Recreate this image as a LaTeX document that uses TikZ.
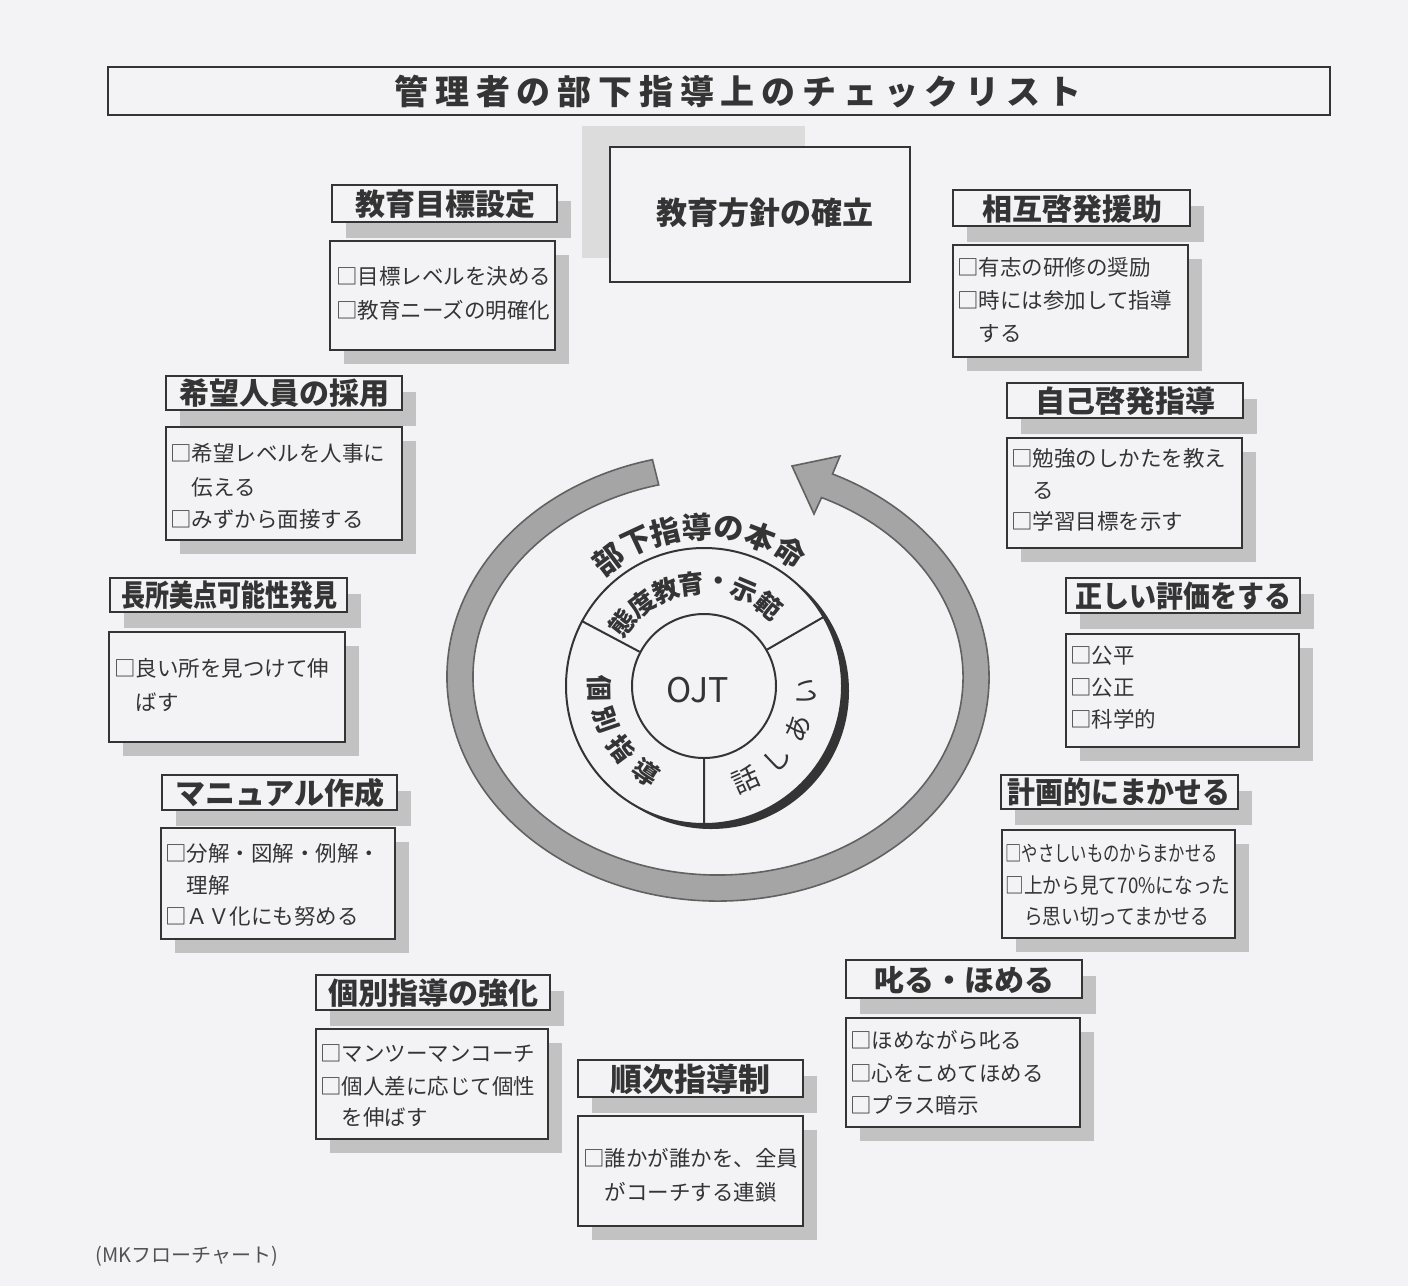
\documentclass[tikz,border=0pt]{standalone}
\usepackage{fontspec}
\usepackage{graphicx}
\setmainfont{Noto Sans CJK JP}
\usetikzlibrary{shadows,fit}
\definecolor{bg}{RGB}{243,243,245}
\definecolor{ink}{RGB}{52,52,52}
\definecolor{shd}{RGB}{194,194,194}
\definecolor{bandc}{RGB}{165,165,165}
\definecolor{patch}{RGB}{220,220,220}
\tikzset{
 boxbase/.style={draw=ink, line width=1pt, fill=bg, inner sep=0pt, outer sep=0pt},
 hdr/.style={boxbase, drop shadow={shadow xshift=7pt, shadow yshift=-8pt, fill=shd, opacity=1}},
 htxt/.style={anchor=base, inner sep=0pt, text=ink, font=\fontsize{15pt}{18pt}\selectfont\bfseries},
 cbox/.style={boxbase, drop shadow={shadow xshift=7pt, shadow yshift=-7pt, fill=shd, opacity=1}},
 cl/.style={anchor=base west, inner sep=0pt, text=ink, font=\fontsize{10.75pt}{13pt}\selectfont},
 ringa/.style={inner sep=0pt, text=ink, font=\fontsize{15pt}{18pt}\selectfont\bfseries},
 ringb/.style={inner sep=0pt, text=ink, font=\fontsize{13pt}{16pt}\selectfont\bfseries},
 ringc/.style={inner sep=0pt, text=ink, font=\fontsize{13.5pt}{16pt}\selectfont},
}
\begin{document}
\begin{tikzpicture}[x=0.5pt,y=-0.5pt]
\useasboundingbox (0,0) rectangle (1408,1286);
\fill[bg] (0,0) rectangle (1408,1286);
% title
\node[boxbase, fit={(108,67) (1330,115)}] (titlebox) {};
\node[anchor=base, text=ink, inner sep=0pt, font=\fontsize{17pt}{20pt}\selectfont\bfseries\addfontfeature{LetterSpace=20}] (title) at (738,104) {管理者の部下指導上のチェックリスト};
% policy box
\fill[patch] (582,126) rectangle (805,258);
\node[boxbase, fit={(610,147) (910,282)}] (policybox) {};
\node[anchor=base, text=ink, inner sep=0pt, font=\fontsize{15.5pt}{18pt}\selectfont\bfseries] (policy) at (765,224) {教育方針の確立};
% headers
\node[hdr, fit={(332,185) (557,222)}] (h1) {};
\node[hdr, fit={(953,190) (1190,226)}] (h2) {};
\node[hdr, fit={(166,376) (402,410)}] (h3) {};
\node[hdr, fit={(1007,383) (1243,418)}] (h4) {};
\node[hdr, fit={(110,578) (347,612)}] (h5) {};
\node[hdr, fit={(1066,578) (1300,613)}] (h6) {};
\node[hdr, fit={(162,775) (397,810)}] (h7) {};
\node[hdr, fit={(1001,775) (1238,809)}] (h8) {};
\node[hdr, fit={(316,975) (550,1010)}] (h9) {};
\node[hdr, fit={(846,960) (1082,998)}] (h10) {};
\node[hdr, fit={(578,1060) (803,1097)}] (h11) {};
\node[htxt] (t1) at (445,215) {教育目標設定};
\node[htxt] (t2) at (1072,220) {相互啓発援助};
\node[htxt] (t3) at (284,404) {希望人員の採用};
\node[htxt] (t4) at (1125,412) {自己啓発指導};
\node[htxt] (t5) at (229,606) {\scalebox{0.8}[1]{長所美点可能性発見}};
\node[htxt] (t6) at (1183,607) {\scalebox{0.9}[1]{正しい評価をする}};
\node[htxt] (t7) at (280,804) {マニュアル作成};
\node[htxt] (t8) at (1119,803) {\scalebox{0.93}[1]{計画的にまかせる}};
\node[htxt] (t9) at (433,1004) {個別指導の強化};
\node[htxt] (t10) at (964,991) {叱る・ほめる};
\node[htxt] (t11) at (690,1091) {\fontsize{16pt}{18pt}\selectfont 順次指導制};
% content boxes
\node[cbox, fit={(330,241) (555,350)}] (b1) {};
\node[cbox, fit={(953,245) (1188,357)}] (b2) {};
\node[cbox, fit={(166,427) (402,540)}] (b3) {};
\node[cbox, fit={(1007,438) (1242,548)}] (b4) {};
\node[cbox, fit={(109,632) (345,742)}] (b5) {};
\node[cbox, fit={(1066,634) (1299,747)}] (b6) {};
\node[cbox, fit={(161,828) (395,939)}] (b7) {};
\node[cbox, fit={(1002,830) (1235,938)}] (b8) {};
\node[cbox, fit={(316,1029) (548,1139)}] (b9) {};
\node[cbox, fit={(846,1018) (1080,1127)}] (b10) {};
\node[cbox, fit={(578,1116) (803,1226)}] (b11) {};
% content lines
\node[cl] (c1a) at (336,284) {□目標レベルを決める};
\node[cl] (c1b) at (336,318) {□教育ニーズの明確化};
\node[cl] (c2a) at (957,275) {□有志の研修の奨励};
\node[cl] (c2b) at (957,308) {□時には参加して指導};
\node[cl] (c2c) at (957,341) {　する};
\node[cl] (c3a) at (170,461) {□希望レベルを人事に};
\node[cl] (c3b) at (170,495) {　伝える};
\node[cl] (c3c) at (170,527) {□みずから面接する};
\node[cl] (c4a) at (1011,466) {□勉強のしかたを教え};
\node[cl] (c4b) at (1011,498) {　る};
\node[cl] (c4c) at (1011,529) {□学習目標を示す};
\node[cl] (c5a) at (114,676) {□良い所を見つけて伸};
\node[cl] (c5b) at (114,710) {　ばす};
\node[cl] (c6a) at (1070,663) {□公平};
\node[cl] (c6b) at (1070,695) {□公正};
\node[cl] (c6c) at (1070,727) {□科学的};
\node[cl] (c7a) at (165,861) {□分解・図解・例解・};
\node[cl] (c7b) at (165,893) {　理解};
\node[cl] (c7c) at (165,924) {□ＡＶ化にも努める};
\node[cl] (c8a) at (1005,861) {\scalebox{0.76}[1]{□やさしいものからまかせる}};
\node[cl] (c8b) at (1005,893) {\scalebox{0.87}[1]{□上から見て70\%になった}};
\node[cl] (c8c) at (1005,924) {\scalebox{0.87}[1]{　ら思い切ってまかせる}};
\node[cl] (c9a) at (320,1061) {□マンツーマンコーチ};
\node[cl] (c9b) at (320,1094) {□個人差に応じて個性};
\node[cl] (c9c) at (320,1125) {　を伸ばす};
\node[cl] (c10a) at (850,1048) {□ほめながら叱る};
\node[cl] (c10b) at (850,1081) {□心をこめてほめる};
\node[cl] (c10c) at (850,1113) {□プラス暗示};
\node[cl] (c11a) at (583,1166) {□誰かが誰かを、全員};
\node[cl] (c11b) at (583,1200) {　がコーチする連鎖};
% big circular arrow band
\path[fill=bandc, draw=black!62, line width=0.8pt]
 ({718+271*cos(104)},{677-224*sin(104)})
 arc[start angle=-104, end angle=-425, x radius=271, y radius=224]
 -- (840,456) -- (792,466) -- (814,514)
 -- ({718+245*cos(65)},{677-198*sin(65)})
 arc[start angle=-425, end angle=-104, x radius=245, y radius=198] -- cycle;
% OJT circles
\fill[ink] (711,691) circle[radius=138];
\node[circle, draw=ink, line width=1pt, fill=bg, minimum size=138pt, inner sep=0pt] (outer) at (704,686) {};
\node[circle, draw=ink, line width=1pt, fill=bg, minimum size=72pt, inner sep=0pt] (inner) at (704,686) {};
\draw[ink, line width=1pt] (inner.30) -- (outer.30) (inner.152) -- (outer.152) (inner.270) -- (outer.270);
\node[text=ink, inner sep=0pt, font=\fontsize{17pt}{20pt}\selectfont] (ojt) at (698,690) {OJT};
% ring texts
\foreach \ch/\a [count=\i] in {部/127,下/115,指/104,導/92.5,の/81,本/69,命/57}
  \node[ringa, rotate=\a-90] (ra\i) at ({704+159*cos(\a)},{686-159*sin(\a)}) {\ch};
\foreach \ch/\a [count=\i] in {態/142,度/127,教/112,育/97,・/82,示/67,範/51}
  \node[ringb, rotate=\a-90] (rb\i) at ({704+103*cos(\a)},{686-103*sin(\a)}) {\ch};
\foreach \ch/\a [count=\i] in {個/181,別/199,指/217,導/236}
  \node[ringb, rotate=\a+90] (rc\i) at ({704+104*cos(\a)},{686-104*sin(\a)}) {\ch};
\foreach \ch/\a [count=\i] in {話/294,し/315,あ/336,い/357}
  \node[ringc, rotate=\a+90] (rd\i) at ({704+103*cos(\a)},{686-103*sin(\a)}) {\ch};
% footer
\node[anchor=base west, inner sep=0pt, text=black!68, font=\fontsize{10pt}{12pt}\selectfont] (foot) at (95,1262) {(MKフローチャート)};
\end{tikzpicture}
\end{document}
